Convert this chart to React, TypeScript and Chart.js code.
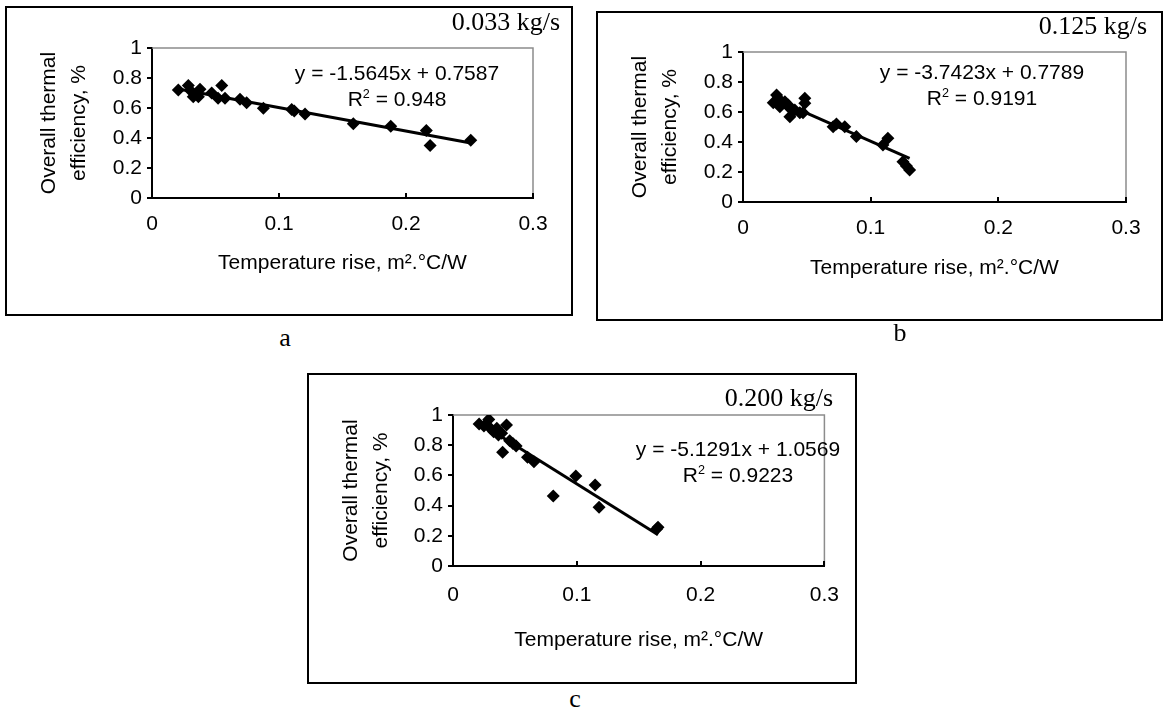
import React, { useEffect, useRef } from 'react';
import { Chart, registerables } from 'chart.js';

Chart.register(...registerables);

// ---------- data ----------
const X_TICKS = [0, 0.1, 0.2, 0.3];
const Y_TICKS = [0, 0.2, 0.4, 0.6, 0.8, 1];
const X_TITLE = 'Temperature rise, m².°C/W';
const Y_TITLE = ['Overall thermal', 'efficiency, %'];

const A_X = [0.0207, 0.0286, 0.031, 0.0325, 0.0365, 0.0378, 0.047, 0.052, 0.0549, 0.0575, 0.0693, 0.0745, 0.0877, 0.110, 0.112, 0.1205, 0.1585, 0.188, 0.216, 0.219, 0.251];
const A_Y = [0.72, 0.75, 0.71, 0.675, 0.675, 0.725, 0.70, 0.665, 0.75, 0.665, 0.658, 0.635, 0.598, 0.59, 0.58, 0.56, 0.495, 0.478, 0.45, 0.35, 0.385];
const A_FIT = { slope: -1.5645, intercept: 0.7587, r2: 0.948 };
const A_FLOW = '0.033 kg/s';

const B_X = [0.0237, 0.0263, 0.0276, 0.0289, 0.0328, 0.0354, 0.0367, 0.0367, 0.0406, 0.0445, 0.047, 0.0484, 0.0484, 0.0706, 0.0732, 0.0797, 0.0888, 0.1096, 0.1135, 0.1253, 0.128, 0.1305];
const B_Y = [0.662, 0.713, 0.691, 0.635, 0.669, 0.647, 0.625, 0.569, 0.613, 0.595, 0.595, 0.691, 0.658, 0.502, 0.52, 0.502, 0.436, 0.38, 0.425, 0.269, 0.24, 0.213];
const B_FIT = { slope: -3.7423, intercept: 0.7789, r2: 0.9191 };
const B_FLOW = '0.125 kg/s';

const C_X = [0.0211, 0.025, 0.0289, 0.0302, 0.0328, 0.0354, 0.0367, 0.0393, 0.0432, 0.0401, 0.0458, 0.0484, 0.051, 0.0602, 0.0654, 0.081, 0.0992, 0.1148, 0.118, 0.1656, 0.1645];
const C_Y = [0.94, 0.927, 0.971, 0.912, 0.889, 0.912, 0.868, 0.879, 0.934, 0.753, 0.83, 0.812, 0.795, 0.72, 0.691, 0.464, 0.596, 0.536, 0.389, 0.256, 0.245];
const C_FIT = { slope: -5.1291, intercept: 1.0569, r2: 0.9223 };
const C_FLOW = '0.200 kg/s';

// ---------- layout / style ----------
const SANS = "'Liberation Sans', Arial, sans-serif";
const SERIF = "'Liberation Serif', 'Times New Roman', serif";

type Box = { l: number; t: number; r: number; b: number };
type Layout = {
  box: Box;
  plot: Box;
  xTitlePad: number;
  yTitlePad: number;
  xTickPad: number;
  flowRight: number;
  flowBase: number;
  eqCx: number;
  eqBase: number;
  letter: string;
  letterCx: number;
  letterBase: number;
};

const LAYOUT_A: Layout = {
  box: { l: 6, t: 7, r: 572, b: 315 },
  plot: { l: 152, t: 48, r: 533, b: 198 },
  xTitlePad: 39, yTitlePad: 28, xTickPad: 14,
  flowRight: 560, flowBase: 31,
  eqCx: 397, eqBase: 80,
  letter: 'a', letterCx: 285, letterBase: 347,
};
const LAYOUT_B: Layout = {
  box: { l: 597, t: 12, r: 1162, b: 320 },
  plot: { l: 743, t: 52, r: 1126, b: 202 },
  xTitlePad: 39, yTitlePad: 28, xTickPad: 14,
  flowRight: 1147, flowBase: 35,
  eqCx: 982, eqBase: 79,
  letter: 'b', letterCx: 900, letterBase: 342,
};
const LAYOUT_C: Layout = {
  box: { l: 308, t: 374, r: 856, b: 683 },
  plot: { l: 453, t: 415, r: 838, b: 566 },
  xTitlePad: 30, yTitlePad: 28, xTickPad: 17,
  flowRight: 833, flowBase: 407,
  eqCx: 738, eqBase: 456,
  letter: 'c', letterCx: 575, letterBase: 708,
};

const framePlugin = {
  id: 'frame',
  beforeDatasetsDraw(chart: any) {
    const { ctx, chartArea: a } = chart;
    ctx.save();
    ctx.strokeStyle = '#8c8c8c';
    ctx.lineWidth = 1.5;
    ctx.beginPath();
    ctx.moveTo(a.left, a.top);
    ctx.lineTo(a.right, a.top);
    ctx.lineTo(a.right, a.bottom);
    ctx.stroke();
    const xs = chart.scales.x;
    ctx.strokeStyle = '#000';
    ctx.lineWidth = 2;
    xs.ticks.forEach((t: any) => {
      if (t.value === 0) return;
      const px = Math.round(xs.getPixelForValue(t.value));
      ctx.beginPath();
      ctx.moveTo(px, a.bottom);
      ctx.lineTo(px, a.bottom - 5);
      ctx.stroke();
    });
    ctx.restore();
  },
};

function Panel({ xs, ys, fit, flow, L }: { xs: number[]; ys: number[]; fit: { slope: number; intercept: number; r2: number }; flow: string; L: Layout }) {
  const ref = useRef<HTMLCanvasElement | null>(null);
  const { box, plot } = L;
  const W = box.r - box.l;
  const H = box.b - box.t;

  useEffect(() => {
    if (!ref.current) return;
    const pts = xs.map((x, i) => ({ x, y: ys[i] }));
    const x0 = Math.min(...xs);
    const x1 = Math.max(...xs);
    const fitPts = [
      { x: x0, y: fit.slope * x0 + fit.intercept },
      { x: x1, y: fit.slope * x1 + fit.intercept },
    ];
    const chart = new Chart(ref.current, {
      type: 'scatter',
      data: {
        datasets: [
          {
            type: 'line',
            data: fitPts,
            borderColor: '#000',
            borderWidth: 3,
            pointRadius: 0,
            fill: false,
            tension: 0,
          } as any,
          {
            data: pts,
            pointStyle: 'rectRot',
            pointRadius: 6.5,
            backgroundColor: '#000',
            borderColor: '#000',
            borderWidth: 0,
          },
        ],
      },
      options: {
        responsive: false,
        animation: false,
        layout: { padding: { left: 0, top: plot.t - box.t, right: box.r - plot.r, bottom: 0 } },
        plugins: { legend: { display: false }, tooltip: { enabled: false } },
        scales: {
          x: {
            type: 'linear',
            min: X_TICKS[0],
            max: X_TICKS[X_TICKS.length - 1],
            afterBuildTicks: (s: any) => { s.ticks = X_TICKS.map((v) => ({ value: v })); },
            afterFit: (s: any) => { s.height = box.b - plot.b; },
            border: { display: true, color: '#000', width: 2 },
            grid: { display: false, drawOnChartArea: false, drawTicks: false },
            ticks: { color: '#000', font: { family: SANS, size: 21 }, padding: L.xTickPad, maxRotation: 0, autoSkip: false, callback: (v: any) => String(v) },
            title: { display: true, text: X_TITLE, color: '#000', font: { family: SANS, size: 21 }, padding: { top: 0, bottom: L.xTitlePad } },
          },
          y: {
            type: 'linear',
            min: Y_TICKS[0],
            max: Y_TICKS[Y_TICKS.length - 1],
            afterBuildTicks: (s: any) => { s.ticks = Y_TICKS.map((v) => ({ value: v })); },
            afterFit: (s: any) => { s.width = plot.l - box.l; },
            border: { display: true, color: '#000', width: 2 },
            grid: { display: true, drawOnChartArea: false, drawTicks: true, tickLength: 5, color: '#000', lineWidth: 2 },
            ticks: { color: '#000', font: { family: SANS, size: 21 }, padding: 5, autoSkip: false, callback: (v: any) => String(v) },
            title: { display: true, text: Y_TITLE, color: '#000', font: { family: SANS, size: 21, lineHeight: 1.45 }, padding: { top: L.yTitlePad, bottom: 0 } },
          },
        },
      },
      plugins: [framePlugin],
    } as any);
    return () => chart.destroy();
  }, []);

  const eqStyle: React.CSSProperties = {
    position: 'absolute',
    left: L.eqCx - 160,
    width: 320,
    top: L.eqBase - 20,
    textAlign: 'center',
    font: `21px ${SANS}`,
    lineHeight: '26px',
    color: '#000',
    whiteSpace: 'nowrap',
  };

  return (
    <>
      <canvas
        ref={ref}
        width={W}
        height={H}
        style={{ position: 'absolute', left: box.l, top: box.t, width: W, height: H }}
      />
      <div
        style={{
          position: 'absolute',
          left: box.l - 1,
          top: box.t - 1,
          width: W + 2,
          height: H + 2,
          border: '2px solid #000',
          boxSizing: 'border-box',
          pointerEvents: 'none',
        }}
      />
      <div style={eqStyle}>
        <div>{`y = ${fit.slope}x + ${fit.intercept}`}</div>
        <div>
          R<span style={{ fontSize: '0.6em', position: 'relative', top: '-0.65em' }}>2</span>
          {` = ${fit.r2}`}
        </div>
      </div>
      <div
        style={{
          position: 'absolute',
          right: 1165 - L.flowRight,
          top: L.flowBase - 24,
          font: `26px ${SERIF}`,
          lineHeight: '30px',
          color: '#000',
          whiteSpace: 'nowrap',
        }}
      >
        {flow}
      </div>
      <div
        style={{
          position: 'absolute',
          left: L.letterCx - 30,
          width: 60,
          textAlign: 'center',
          top: L.letterBase - 24,
          font: `26px ${SERIF}`,
          lineHeight: '30px',
          color: '#000',
        }}
      >
        {L.letter}
      </div>
    </>
  );
}

export default function App() {
  return (
    <div style={{ position: 'absolute', left: 0, top: 0, width: 1165, height: 715, background: '#fff', overflow: 'hidden' }}>
      <Panel xs={A_X} ys={A_Y} fit={A_FIT} flow={A_FLOW} L={LAYOUT_A} />
      <Panel xs={B_X} ys={B_Y} fit={B_FIT} flow={B_FLOW} L={LAYOUT_B} />
      <Panel xs={C_X} ys={C_Y} fit={C_FIT} flow={C_FLOW} L={LAYOUT_C} />
    </div>
  );
}
